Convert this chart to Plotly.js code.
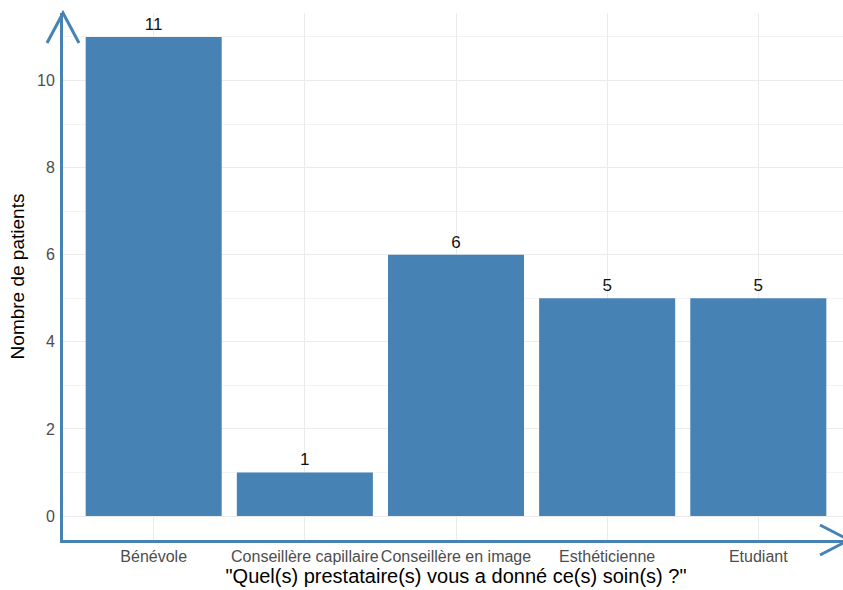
<!DOCTYPE html>
<html>
<head>
<meta charset="utf-8">
<script src="https://cdn.plot.ly/plotly-3.0.1.min.js"></script>
<style>
html,body{margin:0;padding:0;overflow:hidden;background:#fff;}
#chart{width:852px;height:590px;}
</style>
</head>
<body>
<div id="chart"></div>
<script>
// Data
const categories = ["Bénévole", "Conseillère capillaire", "Conseillère en image", "Esthéticienne", "Etudiant"];
const counts = [11, 1, 6, 5, 5];
const yTicks = [0, 2, 4, 6, 8, 10];
const xTitle = "\"Quel(s) prestataire(s) vous a donné ce(s) soin(s) ?\"";
const yTitle = "Nombre de patients";

const steel = "#4682B4";
const W = 852, H = 590;
const m = {l: 63, r: 3, t: 13, b: 50};
const pw = W - m.l - m.r, ph = H - m.t - m.b;

const trace = {
  type: "bar",
  x: categories,
  y: counts,
  width: 0.9,
  marker: {color: steel},
  text: counts.map(String),
  textposition: "outside",
  textfont: {family: "Liberation Sans, Arial, sans-serif", size: 17, color: "#111"},
  cliponaxis: false,
  hoverinfo: "skip"
};

// arrow heads (open chevrons) in paper coords
const yArm = {dx: 16 / pw, dy: 30 / ph};
const xArm = {dx: 29 / pw, dy: 15 / ph};

const layout = {
  width: W, height: H,
  margin: m,
  paper_bgcolor: "#fff",
  plot_bgcolor: "#fff",
  showlegend: false,
  font: {family: "Liberation Sans, Arial, sans-serif", color: "#4D4D4D"},
  xaxis: {
    type: "category",
    range: [-0.6, 4.6],
    showgrid: true, gridcolor: "#EBEBEB", gridwidth: 1,
    showline: true, linecolor: steel, linewidth: 3,
    zeroline: false,
    ticks: "",
    tickfont: {size: 16, color: "#4D4D4D"},
    ticklabelstandoff: 0,
    title: {text: xTitle, font: {size: 20, color: "#000"}, standoff: 2}
  },
  yaxis: {
    range: [-0.55, 11.55],
    tickvals: yTicks,
    showgrid: true, gridcolor: "#EBEBEB", gridwidth: 1,
    minor: {dtick: 1, showgrid: true, gridcolor: "#F3F3F3", gridwidth: 1},
    showline: true, linecolor: steel, linewidth: 3,
    zeroline: false,
    ticks: "",
    tickfont: {size: 16, color: "#4D4D4D"},
    ticklabelstandoff: 2,
    title: {text: yTitle, font: {size: 19, color: "#000"}, standoff: 8}
  },
  shapes: [
    {type: "path", xref: "paper", yref: "paper",
     path: `M ${-yArm.dx},${1 - yArm.dy} L 0,1 L ${yArm.dx},${1 - yArm.dy}`,
     line: {color: steel, width: 3}},
    {type: "path", xref: "paper", yref: "paper",
     path: `M ${1 - xArm.dx},${xArm.dy} L 1,0 L ${1 - xArm.dx},${-xArm.dy}`,
     line: {color: steel, width: 3}}
  ]
};

Plotly.newPlot("chart", [trace], layout, {displayModeBar: false, staticPlot: true});
</script>
</body>
</html>
